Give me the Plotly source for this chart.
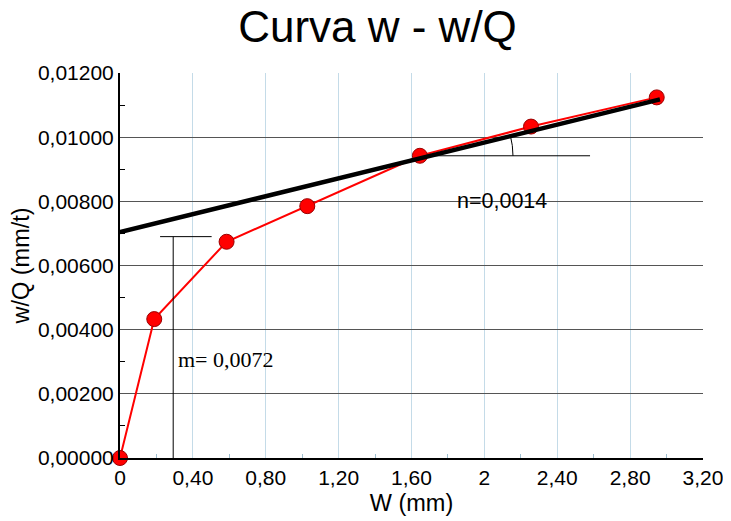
import plotly.graph_objects as go

# Data
w_mm = [0, 0.188, 0.585, 1.028, 1.646, 2.256, 2.946]
w_over_q = [0.0, 0.00433, 0.00674, 0.00785, 0.00942, 0.01033, 0.01124]

# Fitted straight line (m = intercept, n = slope)
fit_x = [0, 2.964]
fit_y = [0.00704, 0.01118]

x_tick_vals = [0, 0.4, 0.8, 1.2, 1.6, 2.0, 2.4, 2.8, 3.2]
x_tick_text = ["0", "0,40", "0,80", "1,20", "1,60", "2", "2,40", "2,80", "3,20"]
x_minor_vals = [0.2, 0.6, 1.0, 1.4, 1.8, 2.2, 2.6, 3.0]
y_tick_vals = [0, 0.002, 0.004, 0.006, 0.008, 0.010, 0.012]
y_tick_text = ["0,00000", "0,00200", "0,00400", "0,00600", "0,00800", "0,01000", "0,01200"]
y_minor_vals = [0.001, 0.003, 0.005, 0.007, 0.009, 0.011]

# Construction marks (helper lines)
m_mark_x = 0.292
m_mark_y = 0.0069
m_mark_bar = [0.22, 0.503]
n_mark_y = 0.00942
n_mark_x = [1.70, 2.58]
arc_pts = [(2.157, 0.00942), (2.157, 0.00974), (2.143, 0.01004)]

FONT = "Liberation Sans, Arial, sans-serif"

# The page body adds an 8px offset; the figure is sized to compensate.
W, H = 723, 513

fig = go.Figure()
fig.add_trace(go.Scatter(
    x=w_mm, y=w_over_q, mode="lines+markers",
    line=dict(color="#ff0000", width=2),
    marker=dict(size=15, color="#ff0000", line=dict(color="#990000", width=1)),
    showlegend=False, cliponaxis=False,
))
fig.add_trace(go.Scatter(
    x=fit_x, y=fit_y, mode="lines",
    line=dict(color="#000000", width=4.5),
    showlegend=False,
))

shapes = [
    dict(type="line", x0=m_mark_x, x1=m_mark_x, y0=0, y1=m_mark_y,
         line=dict(color="#000", width=1)),
    dict(type="line", x0=m_mark_bar[0], x1=m_mark_bar[1], y0=m_mark_y, y1=m_mark_y,
         line=dict(color="#000", width=1)),
    dict(type="line", x0=n_mark_x[0], x1=n_mark_x[1], y0=n_mark_y, y1=n_mark_y,
         line=dict(color="#000", width=1)),
    dict(type="path",
         path=f"M {arc_pts[0][0]},{arc_pts[0][1]} Q {arc_pts[1][0]},{arc_pts[1][1]} {arc_pts[2][0]},{arc_pts[2][1]}",
         line=dict(color="#000", width=1)),
]

fig.update_layout(
    width=W, height=H,
    margin=dict(l=112, r=28, t=65, b=63, autoexpand=False),
    paper_bgcolor="white", plot_bgcolor="white",
    shapes=shapes,
    title=dict(text="Curva w - w/Q", x=369.5 / W, xanchor="center", y=1 - 3 / H, yanchor="top",
               yref="container", xref="container", pad=dict(t=0, b=0),
               font=dict(family=FONT, size=44, color="#000")),
    font=dict(family=FONT, color="#000"),
    annotations=[
        dict(x=0.31, y=0.00308, xref="x", yref="y", text="m= 0,0072", showarrow=False,
             xanchor="left", yanchor="middle",
             font=dict(family="Liberation Serif, Times New Roman, serif", size=22, color="#000")),
        dict(x=1.84, y=0.0080, xref="x", yref="y", text="n=0,0014", showarrow=False,
             xanchor="left", yanchor="middle",
             font=dict(family=FONT, size=21.5, color="#000")),
    ],
)

fig.update_xaxes(
    range=[0, 3.2], tickmode="array", tickvals=x_tick_vals, ticktext=x_tick_text,
    showgrid=True, gridcolor="#c4dbe8", gridwidth=1,
    showline=True, linecolor="#000", linewidth=2,
    ticks="", tickfont=dict(size=21, family=FONT, color="#000"),
    minor=dict(tickvals=x_minor_vals, ticks="inside", ticklen=4, tickcolor="#9fbfd0", showgrid=False),
    zeroline=False, automargin=False,
    title=dict(text="W (mm)", font=dict(size=23.5, family=FONT, color="#000"), standoff=6),
)
fig.update_yaxes(
    range=[0, 0.012], tickmode="array", tickvals=y_tick_vals, ticktext=y_tick_text,
    showgrid=True, gridcolor="#555555", gridwidth=1,
    showline=True, linecolor="#000", linewidth=2,
    ticks="", tickfont=dict(size=21, family=FONT, color="#000"),
    minor=dict(tickvals=y_minor_vals, ticks="inside", ticklen=5, tickcolor="#000", showgrid=False),
    zeroline=False, automargin=False,
    title=dict(text="w/Q (mm/t)", font=dict(size=23.5, family=FONT, color="#000"), standoff=6),
)

fig.write_html("out.html")
